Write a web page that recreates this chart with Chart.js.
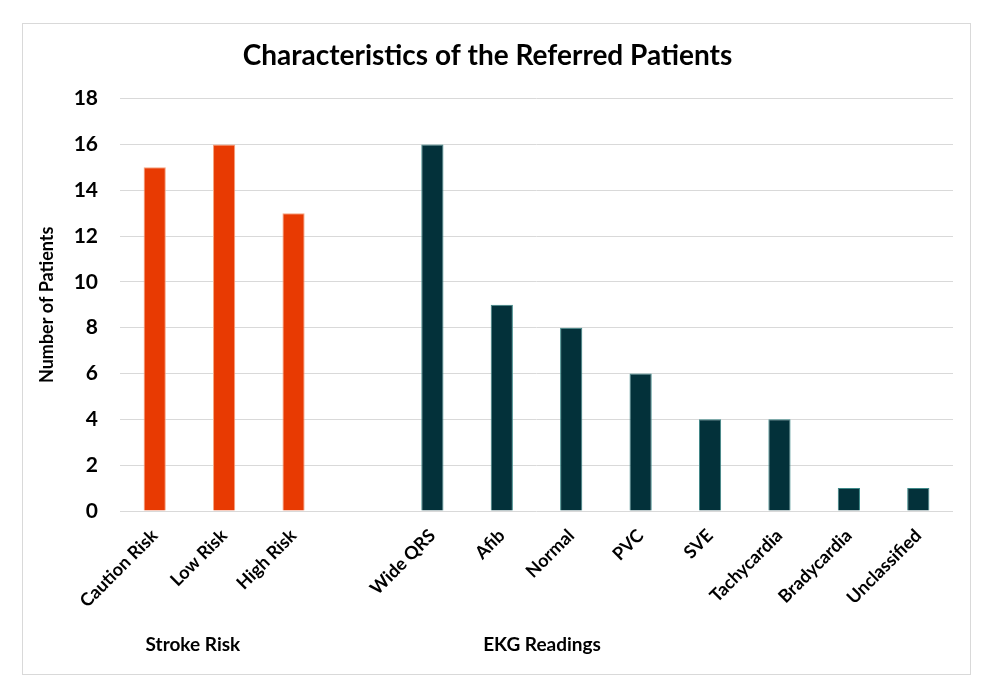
<!DOCTYPE html>
<html>
<head>
<meta charset="utf-8">
<script src="https://cdn.jsdelivr.net/npm/chart.js@4.4.1/dist/chart.umd.min.js"></script>
<style>
  html, body { margin: 0; padding: 0; background: #fff; }
  #wrap { position: relative; width: 998px; height: 700px; }
  #frame { position: absolute; left: 22px; top: 23px; width: 947px; height: 650px; border: 1px solid #d9d9d9; pointer-events: none; }
</style>
</head>
<body>
<div id="wrap">
  <canvas id="patientChart" width="998" height="700"></canvas>
  <div id="frame"></div>
</div>
<script>
// categories, with an empty slot between the two groups
var categories = ['Caution Risk', 'Low Risk', 'High Risk', '', 'Wide QRS', 'Afib', 'Normal', 'PVC', 'SVE', 'Tachycardia', 'Bradycardia', 'Unclassified'];
var patientCounts = [15, 16, 13, null, 16, 9, 8, 6, 4, 4, 1, 1];
var strokeRiskLabels = ['Caution Risk', 'Low Risk', 'High Risk'];
var groupNames = ['Stroke Risk', 'EKG Readings'];
var yTicks = [0, 2, 4, 6, 8, 10, 12, 14, 16, 18];

var FONT = 'Lato, "Open Sans", sans-serif';

var fillColors = categories.map(c => strokeRiskLabels.includes(c) ? '#e83a02' : '#03313a');
var edgeColors = categories.map(c => strokeRiskLabels.includes(c) ? '#f6a37f' : '#3d8888');

// draws the second level of category names (group names)
var groupLabels = {
    id: 'groupLabels',
    afterDraw(chart) {
        var x = chart.scales.x;
        var c = chart.ctx;
        c.save();
        c.font = 'bold 19px ' + FONT;
        c.fillStyle = '#000';
        c.textAlign = 'center';
        c.textBaseline = 'middle';
        c.fillText(groupNames[0], x.getPixelForValue(0.55), 645);
        c.fillText(groupNames[1], x.getPixelForValue(5.58), 645);
        c.restore();
    }
};

var ctx = document.getElementById('patientChart').getContext('2d');

var myChart = new Chart(ctx, {
    type: 'bar',
    data: {
        labels: categories,
        datasets: [{
            data: patientCounts,
            backgroundColor: fillColors,
            borderColor: edgeColors,
            borderWidth: 1,
            categoryPercentage: 1,
            barPercentage: 0.32
        }]
    },
    options: {
        responsive: false,
        animation: false,
        layout: {
            padding: { left: 22, right: 45, top: 0, bottom: 0 }
        },
        scales: {
            x: {
                grid: { display: false },
                border: { display: false },
                ticks: {
                    color: '#000',
                    font: { family: FONT, size: 18, weight: 'bold' },
                    minRotation: 45,
                    maxRotation: 45,
                    autoSkip: false,
                    padding: 6
                },
                afterFit: scale => { scale.height = 189; }
            },
            y: {
                min: 0,
                max: 18,
                afterBuildTicks: scale => { scale.ticks = yTicks.map(v => ({ value: v })); },
                grid: { color: '#d9d9d9', lineWidth: 1, drawTicks: false },
                border: { display: false },
                ticks: {
                    color: '#000',
                    font: { family: FONT, size: 21, weight: 'bold' },
                    padding: 22
                },
                title: {
                    display: true,
                    text: 'Number of Patients',
                    color: '#000',
                    font: { family: FONT, size: 18, weight: 'bold' },
                    padding: { top: 14, bottom: 0 }
                },
                afterFit: scale => { scale.width = 98; }
            }
        },
        plugins: {
            legend: { display: false },
            tooltip: { enabled: false },
            title: {
                display: true,
                text: 'Characteristics of the Referred Patients',
                color: '#000',
                font: { family: FONT, size: 28, weight: 'bold' },
                padding: { top: 39, bottom: 26 }
            }
        }
    },
    plugins: [groupLabels]
});
</script>
</body>
</html>
